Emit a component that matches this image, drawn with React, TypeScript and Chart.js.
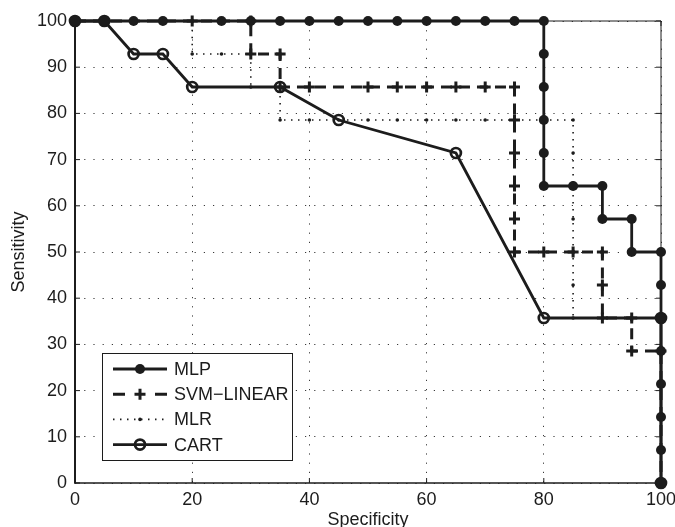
import React, { useEffect, useRef } from "react";
import { Chart, registerables } from "chart.js";

Chart.register(...registerables);

// ---------- data ----------
const seriesLabels = ["MLP", "SVM\u2212LINEAR", "MLR", "CART"];
const xAxisTitle = "Specificity";
const yAxisTitle = "Sensitivity";
const xTickStep = 20;
const yTickStep = 10;

const mlpX = [0, 5, 10, 15, 25, 30, 35, 40, 45, 50, 55, 60, 65, 70, 75, 80, 80, 80, 80, 80, 80, 85, 90, 90, 95, 95, 100, 100, 100, 100, 100, 100, 100, 100];
const mlpY = [100, 100, 100, 100, 100, 100, 100, 100, 100, 100, 100, 100, 100, 100, 100, 100, 92.86, 85.71, 78.57, 71.43, 64.29, 64.29, 64.29, 57.14, 57.14, 50, 50, 42.86, 35.71, 28.57, 21.43, 14.29, 7.14, 0];

const svmX = [0, 20, 30, 30, 35, 35, 40, 45, 50, 55, 60, 65, 70, 75, 75, 75, 75, 75, 75, 80, 85, 90, 90, 90, 95, 95, 100, 100];
const svmY = [100, 100, 100, 92.86, 92.86, 85.71, 85.71, 85.71, 85.71, 85.71, 85.71, 85.71, 85.71, 85.71, 78.57, 71.43, 64.29, 57.14, 50, 50, 50, 50, 42.86, 35.71, 35.71, 28.57, 28.57, 0];
const svmNoMarker = [7];

const mlrX = [0, 20, 20, 25, 30, 30, 35, 35, 40, 45, 50, 55, 60, 65, 70, 75, 80, 85, 85, 85, 85, 85, 85, 85, 90, 95, 100, 100];
const mlrY = [100, 100, 92.86, 92.86, 92.86, 85.71, 85.71, 78.57, 78.57, 78.57, 78.57, 78.57, 78.57, 78.57, 78.57, 78.57, 78.57, 78.57, 71.43, 64.29, 57.14, 50, 42.86, 35.71, 35.71, 35.71, 35.71, 0];

const cartX = [0, 5, 10, 15, 20, 35, 45, 65, 80, 100, 100];
const cartY = [100, 100, 92.86, 92.86, 85.71, 85.71, 78.57, 71.43, 35.71, 35.71, 0];

// ---------- styling ----------
const FONT = "'Liberation Sans', Arial, Helvetica, sans-serif";
const INK = "#1c1c1c";

const pts = (xs: number[], ys: number[]) => xs.map((x, i) => ({ x, y: ys[i] }));

const framePlugin = {
  id: "matlabFrame",
  beforeDatasetsDraw(chart: any) {
    const { ctx, chartArea: a, scales } = chart;
    ctx.save();
    ctx.strokeStyle = INK;
    ctx.lineWidth = 1;
    ctx.beginPath();
    ctx.moveTo(a.left, a.top);
    ctx.lineTo(a.right, a.top);
    ctx.lineTo(a.right, a.bottom);
    ctx.stroke();
    const tl = 5;
    ctx.beginPath();
    for (let v = 0; v <= 100; v += xTickStep) {
      const px = scales.x.getPixelForValue(v);
      ctx.moveTo(px, a.bottom);
      ctx.lineTo(px, a.bottom - tl);
      ctx.moveTo(px, a.top);
      ctx.lineTo(px, a.top + tl);
    }
    for (let v = 0; v <= 100; v += yTickStep) {
      const py = scales.y.getPixelForValue(v);
      ctx.moveTo(a.left, py);
      ctx.lineTo(a.left + tl, py);
      ctx.moveTo(a.right, py);
      ctx.lineTo(a.right - tl, py);
    }
    ctx.stroke();
    ctx.lineWidth = 2;
    ctx.beginPath();
    ctx.moveTo(a.left, a.top);
    ctx.lineTo(a.left, a.bottom);
    ctx.stroke();
    ctx.lineWidth = 1.6;
    ctx.beginPath();
    ctx.moveTo(a.left - 1, a.bottom);
    ctx.lineTo(a.right, a.bottom);
    ctx.stroke();
    ctx.restore();
  },
};

const legendPlugin = {
  id: "matlabLegend",
  afterDraw(chart: any) {
    const { ctx, chartArea: a } = chart;
    const left = a.left + 27;
    const right = a.left + 217;
    const top = a.bottom - 130;
    const bottom = a.bottom - 23;
    ctx.save();
    ctx.fillStyle = "#ffffff";
    ctx.fillRect(left, top, right - left, bottom - top);
    ctx.strokeStyle = INK;
    ctx.lineWidth = 1;
    ctx.strokeRect(left + 0.5, top + 0.5, right - left, bottom - top);

    const x1 = left + 11;
    const x2 = left + 65;
    const xm = (x1 + x2) / 2;
    const ds = chart.data.datasets;
    ds.forEach((d: any, i: number) => {
      const y = top + 16 + i * 25.2;
      ctx.save();
      ctx.strokeStyle = INK;
      ctx.fillStyle = INK;
      ctx.lineWidth = d.borderWidth;
      if (i === 1) ctx.setLineDash([12, 30]);
      else if (d.borderDash) ctx.setLineDash(d.borderDash);
      ctx.beginPath();
      ctx.moveTo(x1, y);
      ctx.lineTo(x2, y);
      ctx.stroke();
      ctx.setLineDash([]);
      if (i === 0) {
        ctx.beginPath();
        ctx.arc(xm, y, 5, 0, Math.PI * 2);
        ctx.fill();
      } else if (i === 1) {
        ctx.lineWidth = 3;
        ctx.beginPath();
        ctx.moveTo(xm - 5.5, y);
        ctx.lineTo(xm + 5.5, y);
        ctx.moveTo(xm, y - 5.5);
        ctx.lineTo(xm, y + 5.5);
        ctx.stroke();
      } else if (i === 2) {
        ctx.beginPath();
        ctx.arc(xm, y, 1.8, 0, Math.PI * 2);
        ctx.fill();
      } else {
        ctx.lineWidth = 2.7;
        ctx.beginPath();
        ctx.arc(xm, y, 5, 0, Math.PI * 2);
        ctx.stroke();
      }
      ctx.restore();
      ctx.save();
      ctx.fillStyle = INK;
      ctx.font = `18px ${FONT}`;
      ctx.textBaseline = "middle";
      ctx.textAlign = "left";
      ctx.fillText(d.label, left + 72, y + 1);
      ctx.restore();
    });
    ctx.restore();
  },
};

export default function App() {
  const ref = useRef<HTMLCanvasElement>(null);

  useEffect(() => {
    if (!ref.current) return;
    const chart = new Chart(ref.current, {
      type: "line",
      data: {
        datasets: [
          {
            label: seriesLabels[0],
            data: pts(mlpX, mlpY),
            borderColor: INK,
            borderWidth: 2.8,
            pointStyle: "circle",
            pointRadius: 5,
            pointBackgroundColor: INK,
            pointBorderColor: INK,
            pointBorderWidth: 0,
            tension: 0,
            clip: false,
          },
          {
            label: seriesLabels[1],
            data: pts(svmX, svmY),
            borderColor: INK,
            borderWidth: 3,
            borderDash: [11, 7],
            pointStyle: "cross",
            pointRadius: (c: any) => (svmNoMarker.includes(c.dataIndex) ? 0 : 5.5),
            pointBorderColor: INK,
            pointBorderWidth: 3,
            tension: 0,
            clip: false,
          },
          {
            label: seriesLabels[2],
            data: pts(mlrX, mlrY),
            borderColor: INK,
            borderWidth: 1.6,
            borderDash: [1.5, 5.5],
            pointStyle: "circle",
            pointRadius: 1.8,
            pointBackgroundColor: INK,
            pointBorderWidth: 0,
            tension: 0,
            clip: false,
          },
          {
            label: seriesLabels[3],
            data: pts(cartX, cartY),
            borderColor: INK,
            borderWidth: 2.8,
            pointStyle: "circle",
            pointRadius: 5,
            pointBackgroundColor: "rgba(0,0,0,0)",
            pointBorderColor: INK,
            pointBorderWidth: 2.7,
            tension: 0,
            clip: false,
          },
        ] as any,
      },
      options: {
        responsive: false,
        animation: false,
        events: [],
        layout: { padding: { top: 21, right: 14, left: 0, bottom: 0 } },
        plugins: { legend: { display: false }, tooltip: { enabled: false } },
        scales: {
          x: {
            type: "linear",
            min: 0,
            max: 100,
            afterFit: (s: any) => {
              s.height = 44;
              s.paddingLeft = 0;
              s.paddingRight = 0;
            },
            ticks: {
              stepSize: xTickStep,
              color: INK,
              padding: 6,
              maxRotation: 0,
              font: { family: FONT, size: 18 },
            },
            grid: { color: "#3a3a3a", lineWidth: 1, drawTicks: false },
            border: { display: false, dash: [1.2, 8] },
            title: {
              display: true,
              text: xAxisTitle,
              color: INK,
              padding: { top: 0, bottom: -4 },
              font: { family: FONT, size: 18 },
            },
          },
          y: {
            type: "linear",
            min: 0,
            max: 100,
            afterFit: (s: any) => {
              s.width = 75;
              s.paddingTop = 0;
              s.paddingBottom = 0;
            },
            ticks: {
              stepSize: yTickStep,
              color: INK,
              padding: 8,
              font: { family: FONT, size: 18 },
            },
            grid: { color: "#3a3a3a", lineWidth: 1, drawTicks: false },
            border: { display: false, dash: [1.2, 8] },
            title: {
              display: true,
              text: yAxisTitle,
              color: INK,
              padding: { top: 8, bottom: 0 },
              font: { family: FONT, size: 18 },
            },
          },
        },
      } as any,
      plugins: [framePlugin, legendPlugin],
    });
    return () => chart.destroy();
  }, []);

  return (
    <div style={{ position: "fixed", left: 0, top: 0, width: 675, height: 527, background: "#fff" }}>
      <canvas ref={ref} width={675} height={527} style={{ display: "block" }} />
    </div>
  );
}
